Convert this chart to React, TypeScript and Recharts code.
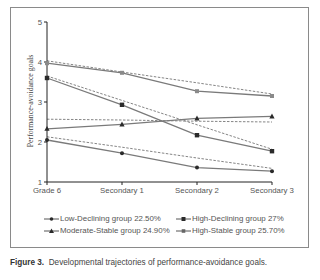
import { LineChart, Line, XAxis, YAxis } from "recharts";

const grades = ["Grade 6", "Secondary 1", "Secondary 2", "Secondary 3"];

// observed trajectories
const lowDeclining = [2.05, 1.72, 1.36, 1.27];
const highDeclining = [3.6, 2.93, 2.17, 1.77];
const moderateStable = [2.33, 2.44, 2.59, 2.64];
const highStable = [3.97, 3.73, 3.27, 3.15];

// estimated (dashed) trajectories
const lowDecliningFit = [2.13, 1.87, 1.6, 1.34];
const highDecliningFit = [3.65, 3.04, 2.43, 1.82];
const moderateStableFit = [2.57, 2.55, 2.52, 2.5];
const highStableFit = [4.03, 3.75, 3.48, 3.2];

const yTicks = [1, 2, 3, 4, 5];

const data = grades.map((g, i) => ({
  grade: g,
  low: lowDeclining[i],
  highDec: highDeclining[i],
  mod: moderateStable[i],
  highSt: highStable[i],
  lowFit: lowDecliningFit[i],
  highDecFit: highDecliningFit[i],
  modFit: moderateStableFit[i],
  highStFit: highStableFit[i],
}));

const LINE = "#7a7a7a";
const MARK = "#2a2a2a";
const FONT = "'Liberation Sans', Arial, sans-serif";

const Diamond = ({ cx, cy }: any) => (
  <circle cx={cx} cy={cy} r={2} fill={MARK} />
);
const Square = ({ cx, cy }: any) => (
  <rect x={cx - 2.2} y={cy - 2.2} width={4.4} height={4.4} fill={MARK} />
);
const Triangle = ({ cx, cy }: any) => (
  <path d={`M${cx},${cy - 2.8} L${cx + 2.6},${cy + 2} L${cx - 2.6},${cy + 2} Z`} fill={MARK} />
);
const Star = ({ cx, cy }: any) => (
  <rect x={cx - 2} y={cy - 2} width={4} height={4} fill="#8a8a8a" />
);

const LegendItem = ({ marker, text }: { marker: string; text: string }) => (
  <div style={{ display: "flex", alignItems: "center", whiteSpace: "nowrap" }}>
    <svg width={15} height={8} style={{ marginRight: 1 }}>
      <line x1={0} y1={4} x2={15} y2={4} stroke="#555" strokeWidth={1} />
      {marker === "circle" && <circle cx={7.5} cy={4} r={1.8} fill={MARK} />}
      {marker === "square" && <rect x={5.5} y={2} width={4} height={4} fill={MARK} />}
      {marker === "triangle" && <path d="M7.5,1.5 L10,6 L5,6 Z" fill={MARK} />}
      {marker === "star" && <rect x={5.7} y={2.2} width={3.6} height={3.6} fill="#666" />}
    </svg>
    <span>{text}</span>
  </div>
);

export default function App() {
  return (
    <div style={{ position: "absolute", left: 0, top: 0, width: 320, height: 280, background: "#fff", fontFamily: FONT }}>
      <div style={{ position: "absolute", left: 10, top: 7, width: 297, height: 239, border: "1px solid #8a8a8a" }} />

      <div style={{ position: "absolute", left: 0, top: 0 }}>
        <LineChart
          width={320}
          height={250}
          data={data}
          margin={{ top: 22, right: 48, left: 27, bottom: 48 }}
        >
          <XAxis
            dataKey="grade"
            padding={{ left: 0, right: 0 }}
            height={20}
            interval={0}
            axisLine={{ stroke: "#222" }}
            tickLine={{ stroke: "#222" }}
            tickSize={3}
            tick={{ fill: "#555", fontSize: 7.8, fontFamily: FONT }}
          />
          <YAxis
            domain={[1, 5]}
            ticks={yTicks}
            width={20}
            axisLine={{ stroke: "#222" }}
            tickLine={{ stroke: "#222" }}
            tickSize={3}
            tick={{ fill: "#555", fontSize: 7.8, fontFamily: FONT }}
          />
          <Line dataKey="lowFit" stroke="#777" strokeWidth={0.9} strokeDasharray="2.5 1.5" dot={false} isAnimationActive={false} />
          <Line dataKey="highDecFit" stroke="#777" strokeWidth={0.9} strokeDasharray="2.5 1.5" dot={false} isAnimationActive={false} />
          <Line dataKey="modFit" stroke="#777" strokeWidth={0.9} strokeDasharray="2.5 1.5" dot={false} isAnimationActive={false} />
          <Line dataKey="highStFit" stroke="#777" strokeWidth={0.9} strokeDasharray="2.5 1.5" dot={false} isAnimationActive={false} />
          <Line dataKey="low" stroke={LINE} strokeWidth={1.3} dot={<Diamond />} isAnimationActive={false} />
          <Line dataKey="highDec" stroke={LINE} strokeWidth={1.3} dot={<Square />} isAnimationActive={false} />
          <Line dataKey="mod" stroke={LINE} strokeWidth={1.3} dot={<Triangle />} isAnimationActive={false} />
          <Line dataKey="highSt" stroke={LINE} strokeWidth={1.3} dot={<Star />} isAnimationActive={false} />
        </LineChart>
      </div>

      {/* y-axis title */}
      <div
        style={{
          position: "absolute",
          left: 30,
          top: 101,
          transform: "translate(-50%, -50%) rotate(-90deg)",
          fontFamily: "'Liberation Serif', 'DejaVu Serif', serif",
          fontSize: 7.8,
          color: "#444",
          whiteSpace: "nowrap",
        }}
      >
        Performance-avoidance goals
      </div>

      {/* legend */}
      <div style={{ position: "absolute", left: 44, top: 213, fontSize: 7.9, color: "#555", lineHeight: "12px" }}>
        <LegendItem marker="circle" text="Low-Declining group 22.50%" />
        <LegendItem marker="triangle" text="Moderate-Stable group 24.90%" />
      </div>
      <div style={{ position: "absolute", left: 176, top: 213, fontSize: 7.9, color: "#555", lineHeight: "12px" }}>
        <LegendItem marker="square" text="High-Declining group 27%" />
        <LegendItem marker="star" text="High-Stable group 25.70%" />
      </div>

      {/* caption */}
      <div style={{ position: "absolute", left: 10, top: 258, fontSize: 8.2, color: "#444", whiteSpace: "nowrap" }}>
        <b style={{ color: "#333" }}>Figure 3.</b>&nbsp; Developmental trajectories of performance-avoidance goals.
      </div>
    </div>
  );
}
